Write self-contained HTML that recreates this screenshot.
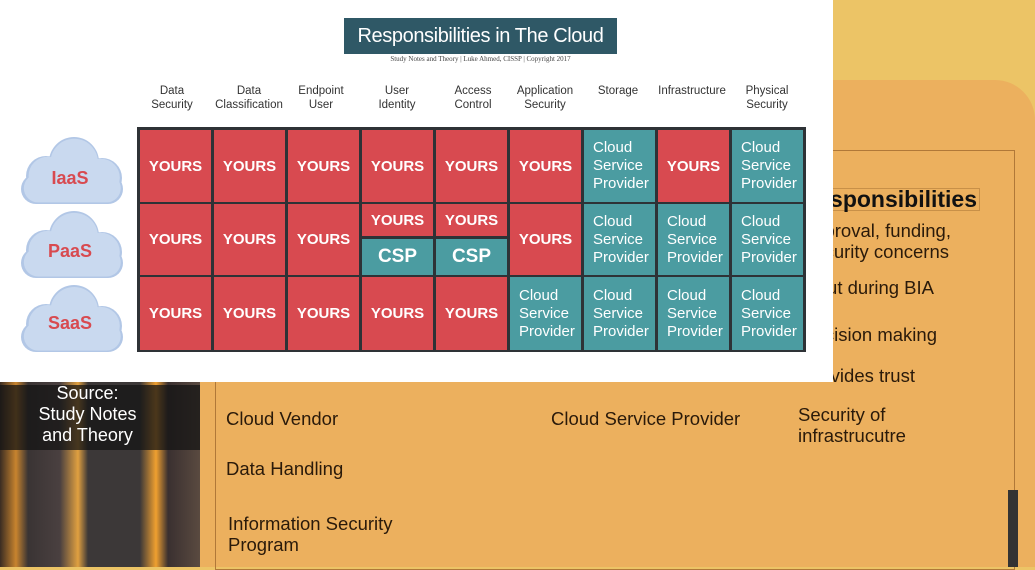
<!DOCTYPE html>
<html><head><meta charset="utf-8"><style>
*{margin:0;padding:0;box-sizing:border-box}
body{width:1035px;height:567px;overflow:hidden;position:relative;background:#ecc466;font-family:"Liberation Sans",sans-serif}
.a{position:absolute}
.c{position:absolute;display:flex;align-items:center;justify-content:center;text-align:center;color:#fff;font-weight:bold;border:2px solid #2e3236}
.r{background:#d84a50;font-size:15px}
.t{background:#4b9ca1;font-size:15px;font-weight:normal;line-height:18px;justify-content:flex-start;text-align:left;padding-left:9px}
.h{position:absolute;font-size:11.5px;text-align:center;color:#333;line-height:14px;width:74px}
.o{position:absolute;font-size:18.5px;color:#2a1a0a;line-height:21px;white-space:nowrap}
.rr{position:absolute;font-size:18.5px;color:#2a1a0a;line-height:21px;white-space:nowrap;text-align:right}
</style></head><body>
<div class="a" style="left:830px;top:80px;width:205px;height:487px;background:#ecb05e;border-top-right-radius:40px"></div>
<div class="a" style="left:200px;top:380px;width:835px;height:187px;background:#ecb05e"></div>
<div class="a" style="left:0;top:380px;width:200px;height:187px;background:linear-gradient(90deg,#3a2c22 0,#c8842e 8%,#3a3434 14%,#4a4040 30%,#e0a040 39%,#3c3838 44%,#3c3838 70%,#f0a030 78%,#3a3030 84%,#5a4a40 100%)"></div>
<div class="a" style="left:0;top:385px;width:200px;height:65px;background:rgba(20,20,20,.75)"></div>
<div class="a" style="left:0;top:383px;width:175px;text-align:center;color:#fff;font-size:18px;line-height:21px">Source:<br>Study Notes<br>and Theory</div>
<div class="a" style="left:215px;top:150px;width:800px;height:420px;border:1px solid #b07838"></div>
<div class="a" style="left:1008px;top:490px;width:10px;height:77px;background:#333"></div>
<div class="o" style="left:226px;top:408px">Cloud Vendor</div>
<div class="o" style="left:226px;top:458px">Data Handling</div>
<div class="o" style="left:228px;top:513px">Information Security<br>Program</div>
<div class="o" style="left:551px;top:408px">Cloud Service Provider</div>
<div class="o" style="left:798px;top:404px">Security of<br>infrastrucutre</div>
<div class="rr" style="right:55px;top:188px;font-size:23px;font-weight:bold;color:#111;border:1px solid #c89048;padding:0 2px">Responsibilities</div>
<div class="rr" style="right:84px;top:220px">Approval, funding,</div>
<div class="rr" style="right:86px;top:241px">security concerns</div>
<div class="rr" style="right:101px;top:277px">Input during BIA</div>
<div class="rr" style="right:98px;top:324px">Decision making</div>
<div class="rr" style="right:120px;top:365px">Provides trust</div>
<div class="a" style="left:0;top:0;width:833px;height:382px;background:#fff"></div>
<div class="a" style="left:344px;top:18px;width:273px;height:36px;background:#2f5866;color:#fff;font-size:20px;letter-spacing:-0.4px;line-height:36px;text-align:center;white-space:nowrap">Responsibilities in The Cloud</div>
<div class="a" style="left:344px;top:55px;width:273px;text-align:center;font-size:7px;color:#444;font-family:'Liberation Serif',serif">Study Notes and Theory | Luke Ahmed, CISSP | Copyright 2017</div>
<div class="h" style="left:135px;top:84px">Data<br>Security</div>
<div class="h" style="left:212px;top:84px">Data<br>Classification</div>
<div class="h" style="left:284px;top:84px">Endpoint<br>User</div>
<div class="h" style="left:360px;top:84px">User<br>Identity</div>
<div class="h" style="left:436px;top:84px">Access<br>Control</div>
<div class="h" style="left:508px;top:84px">Application<br>Security</div>
<div class="h" style="left:581px;top:84px">Storage</div>
<div class="h" style="left:655px;top:84px">Infrastructure</div>
<div class="h" style="left:730px;top:84px">Physical<br>Security</div>
<div class="a" style="left:137px;top:127px;width:669px;height:225px;background:#2e3236"></div>
<div class="c r" style="left:138px;top:128px;width:75px;height:76px">YOURS</div>
<div class="c r" style="left:212px;top:128px;width:75px;height:76px">YOURS</div>
<div class="c r" style="left:286px;top:128px;width:75px;height:76px">YOURS</div>
<div class="c r" style="left:360px;top:128px;width:75px;height:76px">YOURS</div>
<div class="c r" style="left:434px;top:128px;width:75px;height:76px">YOURS</div>
<div class="c r" style="left:508px;top:128px;width:75px;height:76px">YOURS</div>
<div class="c t" style="left:582px;top:128px;width:75px;height:76px">Cloud<br>Service<br>Provider</div>
<div class="c r" style="left:656px;top:128px;width:75px;height:76px">YOURS</div>
<div class="c t" style="left:730px;top:128px;width:75px;height:76px">Cloud<br>Service<br>Provider</div>
<div class="c r" style="left:138px;top:202px;width:75px;height:75px">YOURS</div>
<div class="c r" style="left:212px;top:202px;width:75px;height:75px">YOURS</div>
<div class="c r" style="left:286px;top:202px;width:75px;height:75px">YOURS</div>
<div class="c r" style="left:360px;top:202px;width:75px;height:36px">YOURS</div>
<div class="c t" style="left:360px;top:237px;width:75px;height:40px;font-size:19px;font-weight:bold;justify-content:center;padding:0">CSP</div>
<div class="c r" style="left:434px;top:202px;width:75px;height:36px">YOURS</div>
<div class="c t" style="left:434px;top:237px;width:75px;height:40px;font-size:19px;font-weight:bold;justify-content:center;padding:0">CSP</div>
<div class="c r" style="left:508px;top:202px;width:75px;height:75px">YOURS</div>
<div class="c t" style="left:582px;top:202px;width:75px;height:75px">Cloud<br>Service<br>Provider</div>
<div class="c t" style="left:656px;top:202px;width:75px;height:75px">Cloud<br>Service<br>Provider</div>
<div class="c t" style="left:730px;top:202px;width:75px;height:75px">Cloud<br>Service<br>Provider</div>
<div class="c r" style="left:138px;top:275px;width:75px;height:77px">YOURS</div>
<div class="c r" style="left:212px;top:275px;width:75px;height:77px">YOURS</div>
<div class="c r" style="left:286px;top:275px;width:75px;height:77px">YOURS</div>
<div class="c r" style="left:360px;top:275px;width:75px;height:77px">YOURS</div>
<div class="c r" style="left:434px;top:275px;width:75px;height:77px">YOURS</div>
<div class="c t" style="left:508px;top:275px;width:75px;height:77px">Cloud<br>Service<br>Provider</div>
<div class="c t" style="left:582px;top:275px;width:75px;height:77px">Cloud<br>Service<br>Provider</div>
<div class="c t" style="left:656px;top:275px;width:75px;height:77px">Cloud<br>Service<br>Provider</div>
<div class="c t" style="left:730px;top:275px;width:75px;height:77px">Cloud<br>Service<br>Provider</div>
<svg class="a" style="left:18px;top:132px" width="110" height="225" viewBox="0 0 110 225">
<defs><g id="cl"><circle cx="28" cy="44" r="20"/><circle cx="56" cy="30" r="25"/><circle cx="84" cy="46" r="20"/><rect x="3" y="42" width="102" height="30" rx="15"/></g></defs>
<g fill="#b2c7e6"><use href="#cl"/><use href="#cl" y="74"/><use href="#cl" y="148"/></g>
<g fill="#c9d9ef" transform="translate(3,2) scale(0.95)"><use href="#cl"/><use href="#cl" y="78"/><use href="#cl" y="156"/></g>
<g font-family="Liberation Sans" font-weight="bold" font-size="18" fill="#d84a50" text-anchor="middle"><text x="52" y="52">IaaS</text><text x="52" y="125">PaaS</text><text x="52" y="197">SaaS</text></g>
</svg>
</body></html>
